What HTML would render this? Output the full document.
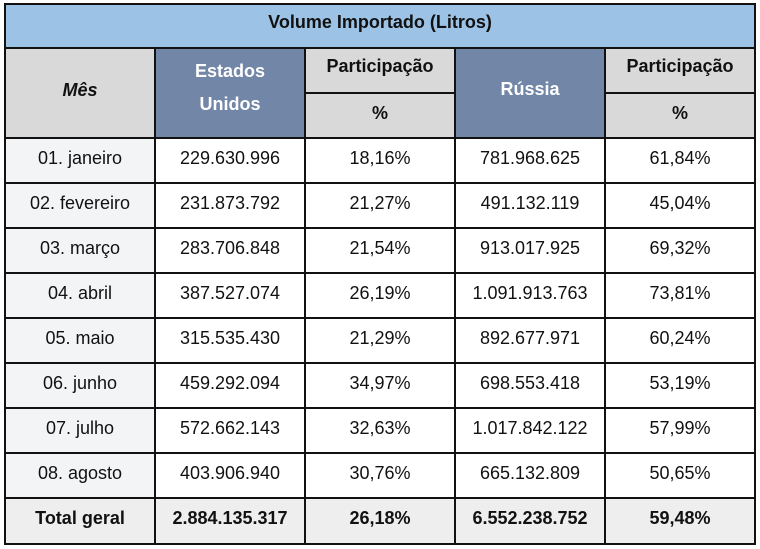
<!DOCTYPE html>
<html><head><meta charset="utf-8">
<style>
body{margin:0;width:760px;height:549px;background:#fff;font-family:"Liberation Sans",Arial,sans-serif;position:relative;overflow:hidden}
.c{position:absolute;box-sizing:border-box;border:2px solid #111;display:flex;align-items:center;justify-content:center;text-align:center;font-size:18px;color:#111;margin:-1px 0 0 -1px;padding-bottom:5px}
.b{font-weight:bold}
.h{background:#d9d9d9}
.u{background:#7286a8;color:#fff;font-weight:bold;line-height:33px}
.m{background:#f3f4f6}
.t{background:#eeeeee;font-weight:bold}
</style></head><body>
<div class="c b" style="left:5px;top:4px;width:752px;height:46px;background:#9cc3e6;font-size:18px;padding-bottom:7px">Volume Importado (Litros)</div>
<div class="c h b" style="left:5px;top:48px;width:152px;height:92px;font-style:italic">Mês</div>
<div class="c u" style="left:155px;top:48px;width:152px;height:92px;padding-bottom:10px">Estados<br>Unidos</div>
<div class="c h b" style="left:305px;top:48px;width:152px;height:47px;padding-bottom:8px">Participação</div>
<div class="c h b" style="left:305px;top:93px;width:152px;height:47px">%</div>
<div class="c u" style="left:455px;top:48px;width:152px;height:92px;padding-bottom:8px">Rússia</div>
<div class="c h b" style="left:605px;top:48px;width:152px;height:47px;padding-bottom:8px">Participação</div>
<div class="c h b" style="left:605px;top:93px;width:152px;height:47px">%</div>
<div id="rows"></div>
<script>
const months=["01. janeiro","02. fevereiro","03. março","04. abril","05. maio","06. junho","07. julho","08. agosto","Total geral"];
const usa=["229.630.996","231.873.792","283.706.848","387.527.074","315.535.430","459.292.094","572.662.143","403.906.940","2.884.135.317"];
const usaPct=["18,16%","21,27%","21,54%","26,19%","21,29%","34,97%","32,63%","30,76%","26,18%"];
const rus=["781.968.625","491.132.119","913.017.925","1.091.913.763","892.677.971","698.553.418","1.017.842.122","665.132.809","6.552.238.752"];
const rusPct=["61,84%","45,04%","69,32%","73,81%","60,24%","53,19%","57,99%","50,65%","59,48%"];
const cols=[months,usa,usaPct,rus,rusPct];
const names=["month","usa-volume","usa-share","russia-volume","russia-share"];
const root=document.getElementById('rows');
for(let r=0;r<months.length;r++){
  const total=r===months.length-1;
  for(let c=0;c<5;c++){
    const d=document.createElement('div');
    d.className='c'+(total?' t':(c===0?' m':''));
    d.style.left=(5+150*c)+'px';
    d.style.top=(138+45*r)+'px';
    d.style.width='152px';
    d.style.height=(total?48:47)+'px';
    d.textContent=cols[c][r];
    
    
    root.appendChild(d);
  }
}
</script>
</body></html>
